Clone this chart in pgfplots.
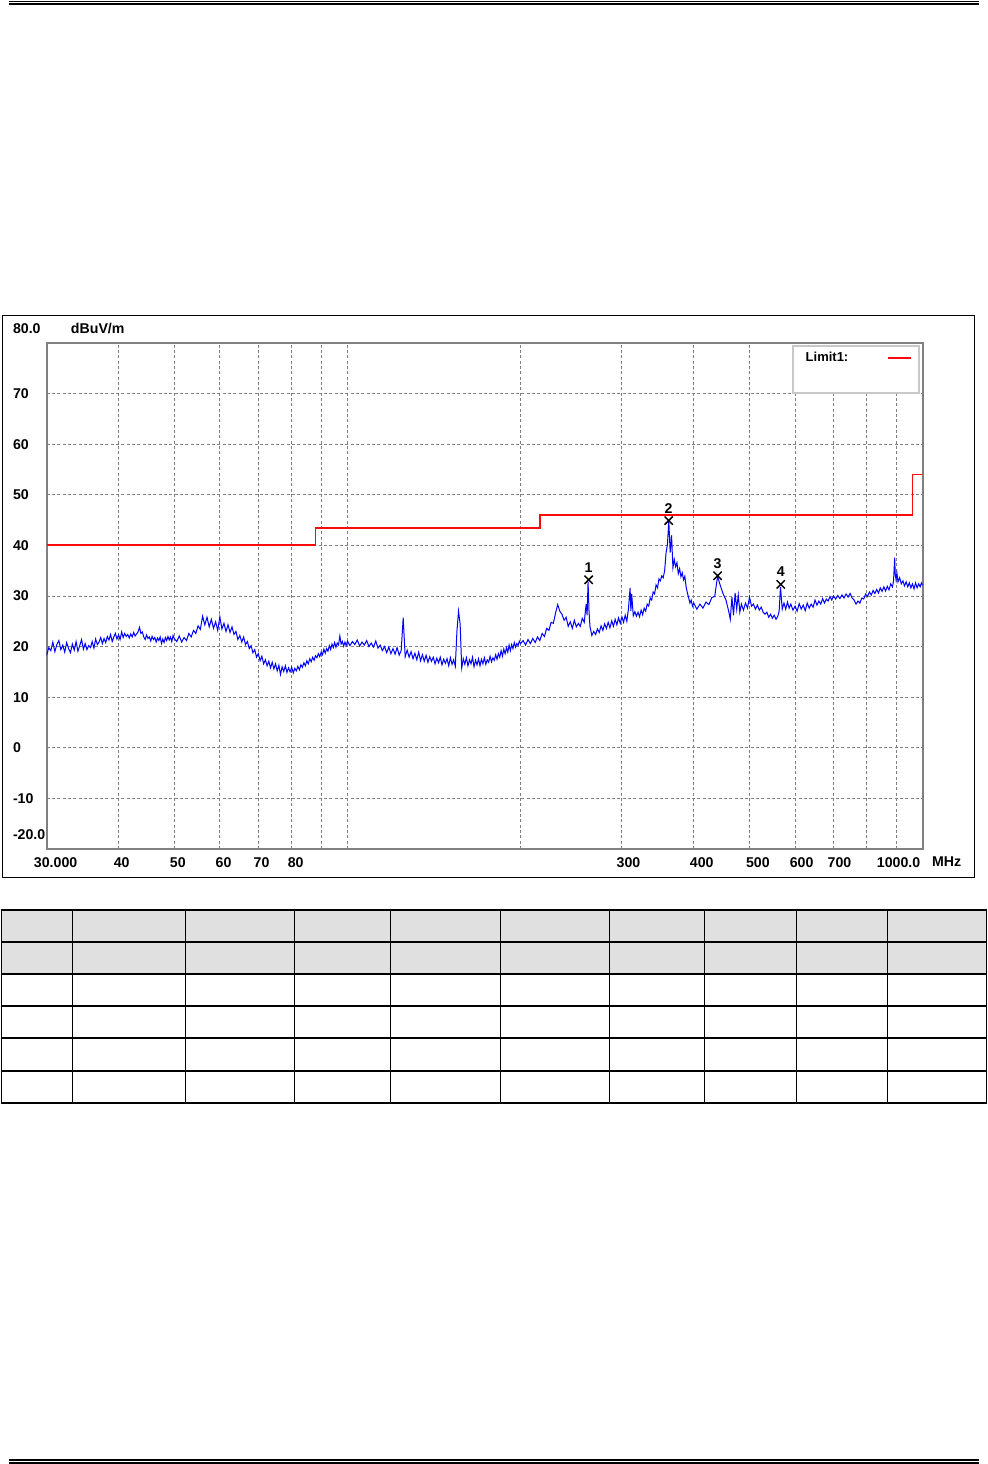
\documentclass[border=0pt]{standalone}
\usepackage{fontspec}
\setmainfont{Liberation Sans}
\usepackage{pgfplots}
\usepackage{pgfplotstable}
\pgfplotsset{compat=1.18}
\definecolor{axgray}{RGB}{128,128,128}
\definecolor{gridgray}{RGB}{128,128,128}
\definecolor{leggray}{RGB}{200,200,200}
\definecolor{tabgray}{RGB}{224,224,224}
\definecolor{tblue}{RGB}{0,0,255}
\definecolor{lred}{RGB}{250,10,10}
\newcommand\lf{\fontsize{8.5}{10}\selectfont\bfseries}
\newcommand\legf{\fontsize{7.8}{9}\selectfont\bfseries}

\pgfplotstableread{
f L
30.00 18.3
30.25 19.8
30.50 19.2
30.75 20.9
31.00 19.0
31.25 20.4
31.50 21.2
31.75 19.4
32.00 20.3
32.25 18.9
32.50 20.8
32.75 19.6
33.00 18.8
33.25 20.5
33.50 19.3
33.75 21.0
34.00 19.1
34.25 20.2
34.50 21.4
34.75 19.5
35.00 20.6
35.25 19.4
35.50 20.2
35.75 19.8
36.00 21.0
36.25 19.7
36.50 21.5
36.75 20.4
37.00 20.9
37.25 21.8
37.50 20.6
37.75 21.6
38.00 20.8
38.25 22.0
38.50 21.3
38.75 22.4
39.00 21.0
39.25 21.9
39.50 22.6
39.75 21.5
40.00 22.3
40.25 21.4
40.50 22.9
40.75 21.8
41.00 22.6
41.25 22.0
41.50 22.4
41.75 21.7
42.00 22.5
42.25 21.9
42.50 22.8
42.75 22.1
43.00 22.5
43.25 22.9
43.50 23.8
43.75 22.6
44.00 22.9
44.25 21.9
44.50 21.4
44.75 22.3
45.00 21.6
45.25 21.9
45.50 21.1
45.75 22.0
46.00 21.4
46.25 21.8
46.50 20.9
46.75 21.7
47.00 21.2
47.25 21.9
47.50 20.6
47.75 21.5
48.00 20.8
48.25 21.8
48.50 21.2
48.75 22.0
49.00 21.3
49.25 21.9
49.50 21.0
49.75 22.2
50.00 21.6
50.5 21.0
51.0 22.1
51.5 20.9
52.0 21.8
52.5 21.2
53.0 22.6
53.5 21.9
54.0 23.2
54.5 22.6
55.0 24.1
55.5 23.4
56.0 26.0
56.5 24.3
57.0 25.8
57.5 23.9
58.0 25.4
58.5 23.6
59.0 24.9
59.5 23.2
60.0 25.9
60.5 23.5
61.0 24.6
61.5 23.0
62.0 24.3
62.5 22.8
63.0 23.9
63.5 22.4
64.0 23.0
64.5 21.4
65.0 22.2
65.5 20.9
66.0 21.9
66.5 20.4
67.0 21.0
67.5 19.6
68.0 20.2
68.5 18.8
69.0 19.4
69.5 17.9
70.0 18.6
70.5 17.2
71.0 18.1
71.5 16.6
72.0 17.4
72.5 16.2
73.0 17.1
73.5 15.8
74.0 16.9
74.5 15.6
75.0 16.6
75.5 15.2
76.0 16.3
76.5 14.5
77.0 16.0
77.5 15.1
78.0 16.2
78.5 14.9
79.0 15.8
79.5 15.0
80.0 15.9
80.5 14.8
81.0 15.7
81.5 15.2
82.0 16.1
82.5 15.4
83.0 16.4
83.5 15.9
84.0 16.8
84.5 16.2
85.0 17.2
85.5 16.6
86.0 17.6
86.5 17.0
87.0 17.9
87.5 17.3
88.0 18.2
88.5 17.8
89.0 18.6
89.5 18.0
90.0 18.9
90.5 18.4
91.0 19.5
91.5 18.7
92.0 19.6
92.5 19.1
93.0 20.2
93.5 19.4
94.0 20.5
94.5 19.8
95.0 20.8
95.5 19.9
96.0 20.7
96.5 20.3
97.0 22.1
97.5 20.5
98.0 21.0
98.5 20.1
99.0 20.9
99.5 20.2
100.0 21.1
101 20.2
102 21.0
103 20.4
104 21.3
105 20.1
106 20.9
107 20.3
108 21.2
109 20.0
110 20.7
111 19.9
112 21.1
113 19.7
114 20.3
115 19.2
116 20.0
117 18.8
118 19.9
119 18.6
120 19.6
121 18.5
122 19.8
123 18.3
124 19.2
125 25.7
126 18.0
127 19.3
128 17.9
129 19.0
130 17.6
131 18.7
132 17.4
133 18.9
134 17.2
135 18.4
136 17.1
137 18.3
138 16.9
139 18.0
140 17.1
141 17.9
142 16.6
143 17.7
144 16.8
145 17.9
146 16.4
147 17.5
148 16.7
149 17.6
150 16.2
151 17.8
152 16.5
153 17.4
154 16.1
155 23.0
156 27.0
157 24.5
158 15.8
159 17.6
160 16.5
161 17.8
162 16.2
163 17.4
164 16.6
165 17.9
166 16.0
167 17.3
168 16.4
169 17.6
170 16.2
171 17.5
172 16.6
173 17.8
174 16.5
175 17.4
176 16.9
177 18.1
178 17.0
179 17.8
180 17.3
181 18.4
182 17.5
183 18.6
184 17.9
185 19.2
186 18.1
187 19.5
188 18.6
189 19.8
190 18.9
191 20.3
192 19.2
193 20.4
194 19.6
195 20.8
196 19.9
197 20.6
198 20.2
199 21.1
200 20.6
202 21.2
204 20.3
206 21.4
208 20.6
210 21.6
212 20.8
214 21.9
216 21.2
218 22.6
220 22.0
222 23.6
224 23.2
226 24.8
228 24.6
230 26.6
232 28.3
234 27.0
236 26.4
238 25.2
240 25.8
242 24.0
244 24.9
246 23.6
248 25.2
250 23.9
252 24.6
254 24.0
256 25.6
258 24.8
260 28.4
261 26.2
262 32.8
263 27.0
264 24.0
266 22.2
268 23.0
270 22.4
272 23.5
274 22.8
276 24.1
278 23.2
280 24.5
282 23.6
284 24.8
286 23.7
288 25.1
290 24.0
292 25.4
294 24.3
296 25.7
298 24.6
300 25.9
302 24.8
304 26.2
306 25.0
308 27.5
310 31.6
311 27.0
312 30.4
314 26.1
316 26.9
318 26.0
320 26.8
322 25.9
324 27.2
326 26.3
328 27.6
330 27.0
332 28.4
334 28.0
336 29.6
338 29.2
340 30.8
342 30.4
344 32.2
346 31.6
348 33.4
350 33.0
352 34.0
354 33.6
356 35.0
358 38.5
360 40.2
362 44.8
364 38.6
366 42.0
368 35.6
370 37.2
372 35.8
374 36.6
376 34.4
378 35.4
380 33.8
382 34.6
384 33.2
386 33.9
388 31.8
390 30.6
392 29.6
394 28.6
396 29.2
398 28.0
400 28.6
405 27.4
410 28.4
415 27.6
420 28.8
425 28.3
430 29.7
435 29.9
440 33.9
445 32.0
450 30.4
455 29.2
460 27.0
463 25.4
466 29.8
469 26.2
472 30.6
475 27.4
478 30.2
481 26.8
484 28.4
488 27.2
492 28.6
496 27.6
500 29.8
504 28.0
508 28.4
512 27.4
516 28.2
520 27.2
524 27.8
528 26.8
532 26.4
536 26.8
540 25.8
544 26.4
548 25.6
552 26.2
556 25.4
560 26.0
563 27.0
566 31.8
568 29.6
570 27.4
574 28.6
578 27.4
582 28.8
586 27.6
590 28.4
595 27.2
600 28.0
605 27.0
610 28.5
615 27.4
620 28.2
625 27.1
630 28.6
635 27.6
640 28.4
645 27.8
650 29.2
655 28.2
660 29.0
665 28.4
670 29.5
675 28.6
680 29.4
685 29.0
690 29.9
695 29.2
700 30.0
706 29.4
712 30.1
718 29.5
724 30.2
730 29.6
736 30.4
742 29.8
748 30.5
754 29.6
760 29.2
766 28.4
772 29.0
778 28.6
784 29.6
790 29.4
796 30.4
802 29.9
808 30.8
814 30.2
820 31.1
826 30.5
832 31.3
838 30.6
844 31.6
850 30.9
856 31.8
862 31.0
868 31.9
874 31.2
880 32.4
886 31.8
890 33.0
894 37.6
896 34.4
899 33.2
902 34.6
906 32.8
912 33.6
918 32.4
924 33.0
930 32.0
936 32.8
942 31.8
948 32.6
954 31.6
960 32.4
966 31.4
972 32.6
978 31.6
984 32.4
990 31.8
995 32.6
1000 32.1
}\trace

\begin{document}
\begin{tikzpicture}
\begin{scope}[x=0.6pt,y=-0.6pt]
\path (0,0) rectangle (987,1464);
\draw[line width=0.9pt] (8,1.7) -- (978,1.7);
\draw[line width=0.9pt] (8,4.2) -- (978,4.2);
\draw[line width=0.9pt] (8,1459.8) -- (978,1459.8);
\draw[line width=0.9pt] (8,1462.8) -- (978,1462.8);
\draw[line width=0.6pt] (1.5,315.5) rectangle (974,877);
\fill[tabgray] (0,910) rectangle (986,974);
\foreach \yy in {910,942,974,1006,1038,1071,1103} \draw[line width=0.8pt] (0,\yy) -- (986.5,\yy);
\foreach \xx in {0.7,72,185,294,390,500,609,704,796,887,986} \draw[line width=0.8pt] (\xx,910) -- (\xx,1103);
\node[font=\lf, anchor=west, inner sep=0pt] at (12,329) {80.0};
\node[font=\lf, anchor=west, inner sep=0pt] at (70,329) {dBuV/m};
\node[font=\lf, anchor=west, inner sep=0pt] at (12,835) {-20.0};
\node[font=\lf, anchor=west, inner sep=0pt] at (931,862) {MHz};
\end{scope}
\begin{axis}[
 at={(27.6pt,-509.4pt)}, anchor=south west,
 scale only axis, width=525.6pt, height=303.6pt,
 xmode=log, xmin=30, xmax=1000, ymin=-20, ymax=80,
 axis line style={draw=axgray, line width=1.2pt},
 xtick={31.1,40.5,50.7,60.9,70.9,81.3,308,413,517,616,717,908},
 xticklabels={30.000,40,50,60,70,80,300,400,500,600,700,1000.0},
 minor xtick={40,50,60,70,80,90,100,200,300,400,500,600,700,800,900},
 xminorgrids=true, xmajorgrids=false,
 ytick={-10,0,10,20,30,40,50,60,70},
 yticklabels={-10,0,10,20,30,40,50,60,70},
 ymajorgrids=true,
 grid style={draw=gridgray, line width=0.6pt, dash pattern=on 1.8pt off 1.4pt},
 minor grid style={draw=gridgray, line width=0.6pt, dash pattern=on 1.8pt off 1.4pt},
 major tick length=0pt, minor tick length=0pt,
 tick label style={font=\lf},
 x tick label style={anchor=north, inner sep=0pt, yshift=-4.8pt},
 y tick label style={anchor=west, inner sep=0pt, xshift=-20.4pt},
 legend plot pos=right,
 legend cell align=left,
 legend image code/.code={\draw[#1] (0pt,0pt) -- (13.8pt,0pt);},
 legend style={at={(rel axis cs:0.8505,0.996)}, anchor=north west,
   draw=leggray, line width=1.2pt, fill=white,
   inner xsep=4.2pt, inner ysep=3.6pt, font=\legf,
   nodes={inner sep=0pt}, column sep=0pt, row sep=0pt},
]
\addplot[tblue, line width=0.6pt, forget plot] table[x=f, y=L] {\trace};
\addplot[draw=lred, line width=1.1pt, no marks] coordinates {(30,40) (88,40) (88,43.5) (216,43.5) (216,46) (960,46) (960,54) (1000,54)};
\addlegendentry{\makebox[52.2pt][l]{\hspace*{3.6pt}Limit1:}}
\addlegendimage{empty legend}
\addlegendentry{\rule{0pt}{12.3pt}}
\addplot[only marks, mark=x, mark size=3.5pt, black, mark options={line width=0.9pt}, forget plot,
  point meta=explicit symbolic, nodes near coords,
  nodes near coords style={font=\lf, anchor=south, inner sep=0pt, yshift=4pt}]
  coordinates {(262.6,33.2)[1] (361.8,44.9)[2] (440,34.0)[3] (566.6,32.3)[4]};
\end{axis}
\end{tikzpicture}
\end{document}
